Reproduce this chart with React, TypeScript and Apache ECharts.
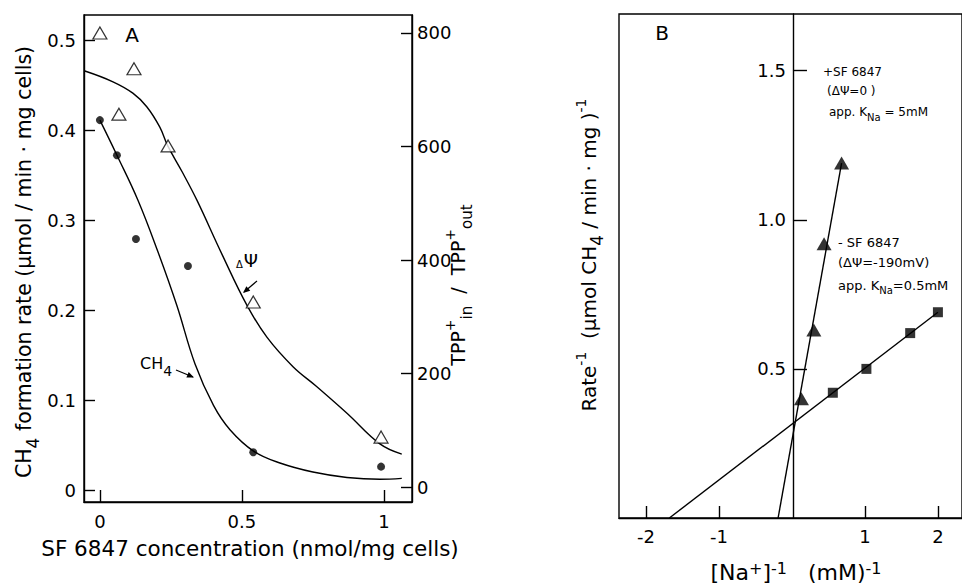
import React, { useEffect, useRef } from "react";
import * as echarts from "echarts";

const FONT = "'DejaVu Sans', 'Liberation Sans', sans-serif";

// ---------- Panel A data ----------
const aXTicks = [0, 0.5, 1];
const aLeftTicks = [0, 0.1, 0.2, 0.3, 0.4, 0.5];
const aRightTicks = [0, 200, 400, 600, 800];
const sfConcCH4 = [0, 0.06, 0.127, 0.31, 0.54, 0.99];
const ch4Rate = [0.411, 0.372, 0.279, 0.249, 0.042, 0.026];
const sfConcPsi = [0, 0.067, 0.12, 0.24, 0.54, 0.99];
const tppRatio = [800, 657, 737, 601, 326, 88];
const ch4FitX = [0, 0.06, 0.134, 0.204, 0.271, 0.335, 0.4, 0.458, 0.542, 0.634, 0.75, 0.87, 0.986, 1.063];
const ch4FitY = [0.411, 0.372, 0.322, 0.265, 0.205, 0.14, 0.094, 0.067, 0.043, 0.03, 0.02, 0.014, 0.012, 0.013];
const psiFitX = [-0.053, 0.046, 0.116, 0.165, 0.211, 0.239, 0.29, 0.342, 0.43, 0.518, 0.588, 0.68, 0.761, 0.87, 0.986, 1.063];
const psiFitY = [733, 714, 694, 670, 634, 601, 555, 505, 410, 320, 264, 212, 178, 130, 76, 58];

// ---------- Panel B data ----------
const bXTicks = [-2, -1, 1, 2];
const bYTicks = [0.5, 1.0, 1.5];
const naInvPlusSF = [0.13, 0.3, 0.44, 0.68];
const rateInvPlusSF = [0.4, 0.63, 0.92, 1.19];
const naInvMinusSF = [0.56, 1.02, 1.62, 2.0];
const rateInvMinusSF = [0.42, 0.5, 0.62, 0.69];
const fitPlusX = [-0.19, 0.68];
const fitPlusY = [0, 1.19];
const fitMinusX = [-1.68, 2.0];
const fitMinusY = [0, 0.69];

const zip = (xs: number[], ys: number[]) => xs.map((x, i) => [x, ys[i]]);

const black = "#000";
const lineW = 1.4;

// panel B x range, and the pixel position of its x = 0 (for the crossing y axis)
const bXMin = -2.37;
const bXMax = 2.33;
const bLeft = 619;
const bWidth = 345;
const bZeroPx = bLeft + ((0 - bXMin) / (bXMax - bXMin)) * bWidth;

function arrowHead(tip: [number, number], from: [number, number], len = 7, half = 3) {
  const dx = tip[0] - from[0];
  const dy = tip[1] - from[1];
  const d = Math.hypot(dx, dy);
  const ux = dx / d, uy = dy / d;
  const bx = tip[0] - ux * len, by = tip[1] - uy * len;
  return {
    type: "polygon",
    shape: { points: [tip, [bx - uy * half, by + ux * half], [bx + uy * half, by - ux * half]] },
    style: { fill: black },
    silent: true,
  };
}

function axisCommon(ticks: number[], fmt: (v: number) => string, tickLen: number, margin = 8) {
  return {
    splitLine: { show: false },
    axisTick: { show: true, inside: true, length: tickLen, customValues: ticks, lineStyle: { color: black, width: 1.4 } },
    axisLabel: {
      customValues: ticks,
      formatter: fmt,
      color: black,
      fontSize: 18,
      fontFamily: FONT,
      margin,
    },
  };
}

const richBase = (size: number, lh: number, subScale: number) => ({
  n: { fontSize: size, fontFamily: FONT, fill: black, lineHeight: lh },
  s: { fontSize: Math.round(size * subScale), fontFamily: FONT, fill: black, verticalAlign: "bottom" },
  u: { fontSize: Math.round(size * 0.72), fontFamily: FONT, fill: black, verticalAlign: "top", padding: [1, 0, 0, 0] },
  d: { fontSize: Math.round(size * 0.6), fontFamily: FONT, fill: black, verticalAlign: "bottom", padding: [0, 1, 3, 0] },
  p: { fontSize: Math.round(size * 1.15), fontFamily: FONT, fill: black, lineHeight: lh },
});

function txt(x: number, y: number, text: string, size: number, opts: any = {}) {
  return {
    type: "text",
    x,
    y,
    rotation: opts.rotation || 0,
    silent: true,
    style: {
      text,
      rich: richBase(size, opts.lh || size + 8, opts.sub || 0.8),
      fill: black,
      fontSize: size,
      fontFamily: FONT,
      align: opts.align || "left",
      verticalAlign: "middle",
    },
  };
}

export default function App() {
  const ref = useRef<HTMLDivElement>(null);
  useEffect(() => {
    document.body.style.margin = "0";
    const chart = echarts.init(ref.current!, null, { renderer: "svg" });
    const hidden = { show: false };
    const option: any = {
      animation: false,
      backgroundColor: "#fff",
      grid: [
        { left: 84, top: 15, width: 328, height: 487, show: true, borderColor: black, borderWidth: 1.4 },
        { left: bLeft, top: 14, width: bWidth, height: 504, show: true, borderColor: black, borderWidth: 1.4 },
        { left: bZeroPx, top: 14, width: 100, height: 504, show: false },
      ],
      xAxis: [
        {
          gridIndex: 0, type: "value", min: -0.056, max: 1.099,
          axisLine: { show: true, onZero: false, lineStyle: { color: black, width: 1.4 } },
          ...axisCommon(aXTicks, (v) => String(v), 12, 10),
        },
        {
          gridIndex: 1, type: "value", min: bXMin, max: bXMax,
          axisLine: { show: true, onZero: false, lineStyle: { color: black, width: 1.4 } },
          ...axisCommon(bXTicks, (v) => String(v), 12, 9),
        },
        { gridIndex: 2, type: "value", min: 0, max: 1, show: false },
      ],
      yAxis: [
        {
          gridIndex: 0, type: "value", position: "left", min: -0.0133, max: 0.5278,
          axisLine: { show: true, onZero: false, lineStyle: { color: black, width: 1.4 } },
          ...axisCommon(aLeftTicks, (v) => (v === 0 ? "0" : v.toFixed(1)), 11),
        },
        {
          gridIndex: 0, type: "value", position: "right", min: -26.4, max: 831.7,
          axisLine: { show: true, onZero: false, lineStyle: { color: black, width: 1.4 } },
          ...axisCommon(aRightTicks, (v) => String(v), 11, 5),
        },
        { gridIndex: 1, type: "value", min: 0, max: 1.69, show: false, splitLine: hidden },
        {
          gridIndex: 2, type: "value", position: "left", min: 0, max: 1.69,
          axisLine: { show: true, onZero: false, lineStyle: { color: black, width: 1.4 } },
          ...axisCommon(bYTicks, (v) => v.toFixed(1), 14, 7),
        },
      ],
      series: [
        {
          type: "line", xAxisIndex: 0, yAxisIndex: 0, data: zip(ch4FitX, ch4FitY),
          smooth: 0.4, showSymbol: false, lineStyle: { color: black, width: lineW }, z: 2, silent: true,
        },
        {
          type: "line", xAxisIndex: 0, yAxisIndex: 1, data: zip(psiFitX, psiFitY),
          smooth: 0.4, showSymbol: false, lineStyle: { color: black, width: lineW }, z: 2, silent: true,
        },
        {
          type: "scatter", xAxisIndex: 0, yAxisIndex: 0, data: zip(sfConcCH4, ch4Rate),
          symbol: "circle", symbolSize: 8, itemStyle: { color: black }, z: 5,
        },
        {
          type: "scatter", xAxisIndex: 0, yAxisIndex: 1, data: zip(sfConcPsi, tppRatio),
          symbol: "triangle", symbolSize: [14, 12], itemStyle: { color: "#fff", borderColor: black, borderWidth: 1.2 }, z: 5,
        },
        {
          type: "line", xAxisIndex: 1, yAxisIndex: 2, data: zip(fitPlusX, fitPlusY),
          showSymbol: false, lineStyle: { color: black, width: lineW }, z: 2, silent: true,
        },
        {
          type: "line", xAxisIndex: 1, yAxisIndex: 2, data: zip(fitMinusX, fitMinusY),
          showSymbol: false, lineStyle: { color: black, width: lineW }, z: 2, silent: true,
        },
        {
          type: "scatter", xAxisIndex: 1, yAxisIndex: 2, data: zip(naInvPlusSF, rateInvPlusSF),
          symbol: "triangle", symbolSize: [15, 13], itemStyle: { color: black }, z: 5,
        },
        {
          type: "scatter", xAxisIndex: 1, yAxisIndex: 2, data: zip(naInvMinusSF, rateInvMinusSF),
          symbol: "rect", symbolSize: 10, itemStyle: { color: black }, z: 5,
        },
      ],
      graphic: [
        txt(132, 35, "A", 20, { align: "center" }),
        txt(662, 33, "B", 20, { align: "center" }),
        // panel A axis titles
        txt(24, 262, "{n|CH}{s|4}{n| formation rate (µmol / min · mg cells)}", 20.5, { align: "center", rotation: Math.PI / 2, lh: 34, sub: 0.85 }),
        txt(250, 548, "SF 6847 concentration (nmol/mg cells)", 21.5, { align: "center" }),
        txt(458, 285, "{n|TPP}{u|+}{s|in}{n|  /  TPP}{u|+}{s|out}", 19, { align: "center", rotation: Math.PI / 2, lh: 32 }),
        // panel B axis titles
        txt(589, 255, "{n|Rate}{u|-1}{n|  (µmol CH}{s|4}{n| / min · mg )}{u|-1}", 20, { align: "center", rotation: Math.PI / 2, lh: 32, sub: 0.85 }),
        txt(796, 572, "{n|[Na}{u|+}{n|]}{u|-1}{n|   (mM)}{u|-1}", 22, { align: "center", lh: 26 }),
        // curve labels panel A
        txt(140, 363, "{n|CH}{s|4}", 16, { lh: 30, sub: 0.9 }),
        { type: "line", shape: { x1: 176, y1: 370, x2: 193, y2: 377 }, style: { stroke: black, lineWidth: 1.2 }, silent: true },
        arrowHead([194, 377.5], [176, 370]),
        txt(236, 260, "{d|Δ}{p|Ψ}", 16, { lh: 24 }),
        { type: "line", shape: { x1: 257, y1: 281, x2: 244, y2: 292 }, style: { stroke: black, lineWidth: 1.2 }, silent: true },
        arrowHead([243, 293], [257, 281]),
        // panel B annotations
        txt(823, 72, "+SF 6847", 12, { lh: 16 }),
        txt(827, 91, "(ΔΨ=0 )", 12, { lh: 16 }),
        txt(829, 112, "{n|app. K}{s|Na}{n| = 5mM}", 12, { lh: 20 }),
        txt(838, 242, "- SF 6847", 13, { lh: 18 }),
        txt(838, 262, "(ΔΨ=-190mV)", 13, { lh: 18 }),
        txt(838, 285, "{n|app. K}{s|Na}{n|=0.5mM}", 13, { lh: 20 }),
      ],
    };
    chart.setOption(option);
    return () => chart.dispose();
  }, []);
  return <div ref={ref} style={{ width: 962, height: 587 }} />;
}
